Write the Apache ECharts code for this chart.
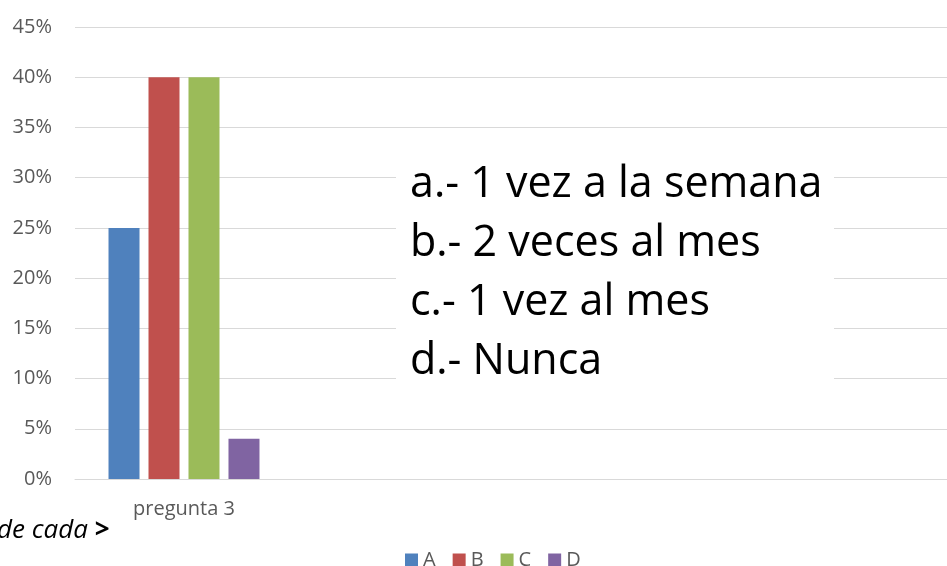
<!DOCTYPE html>
<html lang="es">
<head>
    <meta charset="UTF-8">
    <title>pregunta 3</title>
    <style>
        html, body { margin: 0; padding: 0; background: #fff; }
        #chart1 { width: 947px; height: 566px; }
    </style>
</head>
<body>
<div id="chart1"></div>

<script type="text/javascript" src="https://cdn.jsdelivr.net/npm/echarts@6/dist/echarts.min.js"></script>
<script type="text/javascript">
    // datos
    var categorias = ['pregunta 3', '', '', ''];
    var serieA = [25, null, null, null];
    var serieB = [40, null, null, null];
    var serieC = [40, null, null, null];
    var serieD = [4, null, null, null];
    var nombres = ['A', 'B', 'C', 'D'];
    var colores = ['#4f81bd', '#c0504d', '#9bbb59', '#8064a2'];
    var opciones = ['a.- 1 vez a la semana', 'b.- 2 veces al mes', 'c.- 1 vez al mes', 'd.- Nunca'];

    var fuente = '"Open Sans", "Noto Sans", sans-serif';
    var gris = '#595959';

    var valores = [serieA, serieB, serieC, serieD];
    var series = valores.map(function (v, i) {
        return {
            name: nombres[i],
            type: 'bar',
            data: v,
            barWidth: 31,
            barGap: '29%',
            itemStyle: { color: colores[i] }
        };
    });

    // cuadro de texto blanco encima de la cuadricula
    var graficos = [{
        type: 'rect',
        shape: { x: 396, y: 140, width: 438, height: 260 },
        style: { fill: '#fff' },
        z: 100
    }];
    opciones.forEach(function (t, i) {
        graficos.push({
            type: 'text',
            x: 410,
            y: 185 + i * 59,
            z: 101,
            style: {
                text: t,
                font: '43px ' + fuente,
                fill: '#000',
                verticalAlign: 'middle'
            }
        });
    });
    graficos.push({
        type: 'text',
        x: -3,
        y: 531,
        z: 101,
        style: {
            text: 'de cada {b|>}',
            font: 'italic 26px ' + fuente,
            fill: '#000',
            verticalAlign: 'middle',
            rich: { b: { fontStyle: 'normal', fontWeight: 'bold', fontSize: 26, fontFamily: fuente } }
        }
    });

    var myChart1 = echarts.init(document.getElementById('chart1'));
    myChart1.setOption({
        animation: false,
        color: colores,
        grid: { left: 75, top: 27, width: 880, bottom: 87 },
        legend: {
            data: nombres,
            left: 400,
            top: 545,
            icon: 'rect',
            itemWidth: 13,
            itemHeight: 13,
            itemGap: 17,
            textStyle: { color: gris, fontSize: 20, fontFamily: fuente }
        },
        xAxis: {
            type: 'category',
            data: categorias,
            axisTick: { show: false },
            axisLine: { lineStyle: { color: '#d9d9d9', width: 1 } },
            axisLabel: { color: gris, fontSize: 20, fontFamily: fuente, margin: 20 }
        },
        yAxis: {
            type: 'value',
            min: 0,
            max: 45,
            interval: 5,
            axisLine: { show: false },
            axisTick: { show: false },
            axisLabel: { formatter: '{value}%', color: gris, fontSize: 20, fontFamily: fuente, margin: 23 },
            splitLine: { lineStyle: { color: '#d9d9d9', width: 1 } }
        },
        series: series,
        graphic: graficos
    });
</script>
</body>
</html>
